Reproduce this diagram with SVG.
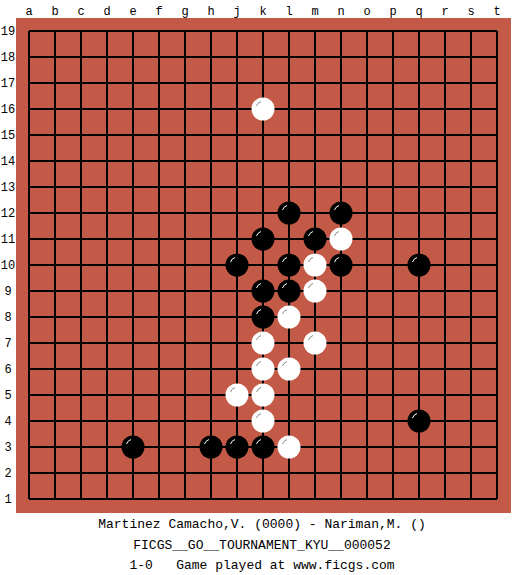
<svg xmlns="http://www.w3.org/2000/svg" width="525" height="575" viewBox="0 0 525 575">
<defs>
<style>
.lbl{font-family:"Liberation Mono","DejaVu Sans Mono",monospace;font-size:12px;fill:#000;text-anchor:middle}
.cap{font-family:"Liberation Mono","DejaVu Sans Mono",monospace;font-size:13px;fill:#000;text-anchor:middle;white-space:pre}
.grid{stroke:#000;stroke-width:2;fill:none}
.b{fill:#000}
.w{fill:#fff}
.hb{stroke:#fff;stroke-width:1;fill:none}
.hw{stroke:#888;stroke-width:1;fill:none}
</style>
<g id="black"><circle r="11.5" class="b"/><path d="M-6.5,-3 A7,7 0 0 1 -2,-7.5" class="hb"/></g>
<g id="white"><circle r="11.5" class="w"/><path d="M-6.5,-3 A7,7 0 0 1 -2,-7.5" class="hw"/></g>
</defs>
<rect width="525" height="575" fill="#fff"/>
<rect x="16" y="18" width="495" height="495" fill="#C25A47"/>
<g id="grid">
<path class="grid" d="M29,31V499M55,31V499M81,31V499M107,31V499M133,31V499M159,31V499M185,31V499M211,31V499M237,31V499M263,31V499M289,31V499M315,31V499M341,31V499M367,31V499M393,31V499M419,31V499M445,31V499M471,31V499M497,31V499M29,31H497M29,57H497M29,83H497M29,109H497M29,135H497M29,161H497M29,187H497M29,213H497M29,239H497M29,265H497M29,291H497M29,317H497M29,343H497M29,369H497M29,395H497M29,421H497M29,447H497M29,473H497M29,499H497"/>
</g>
<g id="col-labels">
<text class="lbl" x="29" y="15">a</text><text class="lbl" x="55" y="15">b</text><text class="lbl" x="81" y="15">c</text><text class="lbl" x="107" y="15">d</text><text class="lbl" x="133" y="15">e</text><text class="lbl" x="159" y="15">f</text><text class="lbl" x="185" y="15">g</text><text class="lbl" x="211" y="15">h</text><text class="lbl" x="237" y="15">j</text><text class="lbl" x="263" y="15">k</text><text class="lbl" x="289" y="15">l</text><text class="lbl" x="315" y="15">m</text><text class="lbl" x="341" y="15">n</text><text class="lbl" x="367" y="15">o</text><text class="lbl" x="393" y="15">p</text><text class="lbl" x="419" y="15">q</text><text class="lbl" x="445" y="15">r</text><text class="lbl" x="471" y="15">s</text><text class="lbl" x="497" y="15">t</text>
</g>
<g id="row-labels">
<text class="lbl" x="8" y="35">19</text><text class="lbl" x="8" y="61">18</text><text class="lbl" x="8" y="87">17</text><text class="lbl" x="8" y="113">16</text><text class="lbl" x="8" y="139">15</text><text class="lbl" x="8" y="165">14</text><text class="lbl" x="8" y="191">13</text><text class="lbl" x="8" y="217">12</text><text class="lbl" x="8" y="243">11</text><text class="lbl" x="8" y="269">10</text><text class="lbl" x="8" y="295">9</text><text class="lbl" x="8" y="321">8</text><text class="lbl" x="8" y="347">7</text><text class="lbl" x="8" y="373">6</text><text class="lbl" x="8" y="399">5</text><text class="lbl" x="8" y="425">4</text><text class="lbl" x="8" y="451">3</text><text class="lbl" x="8" y="477">2</text><text class="lbl" x="8" y="503">1</text>
</g>
<g id="stones">
<use href="#white" x="263" y="109"/>
<use href="#black" x="289" y="213"/><use href="#black" x="341" y="213"/>
<use href="#black" x="263" y="239"/><use href="#black" x="315" y="239"/><use href="#white" x="341" y="239"/>
<use href="#black" x="237" y="265"/><use href="#black" x="289" y="265"/><use href="#white" x="315" y="265"/><use href="#black" x="341" y="265"/><use href="#black" x="419" y="265"/>
<use href="#black" x="263" y="291"/><use href="#black" x="289" y="291"/><use href="#white" x="315" y="291"/>
<use href="#black" x="263" y="317"/><use href="#white" x="289" y="317"/>
<use href="#white" x="263" y="343"/><use href="#white" x="315" y="343"/>
<use href="#white" x="263" y="369"/><use href="#white" x="289" y="369"/>
<use href="#white" x="237" y="395"/><use href="#white" x="263" y="395"/>
<use href="#white" x="263" y="421"/><use href="#black" x="419" y="421"/>
<use href="#black" x="133" y="447"/><use href="#black" x="211" y="447"/><use href="#black" x="237" y="447"/><use href="#black" x="263" y="447"/><use href="#white" x="289" y="447"/>
</g>
<g id="caption">
<text class="cap" x="262" y="528">Martinez Camacho,V. (0000) - Nariman,M. ()</text>
<text class="cap" x="262" y="549">FICGS__GO__TOURNAMENT_KYU__000052</text>
<text class="cap" x="262" y="569" xml:space="preserve">1-0   Game played at www.ficgs.com</text>
</g>
</svg>
